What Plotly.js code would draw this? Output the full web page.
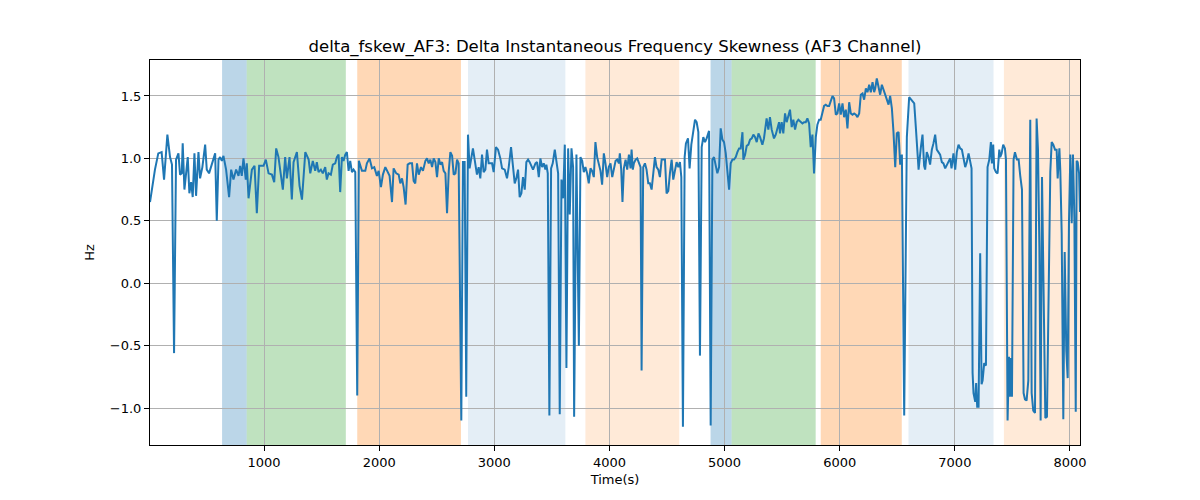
<!DOCTYPE html>
<html>
<head>
<meta charset="utf-8">
<script src="https://cdn.plot.ly/plotly-3.0.1.min.js"></script>
<style>
  body { margin: 0; background: #fff; }
  #chart { width: 1200px; height: 500px; }
</style>
</head>
<body>
<div id="chart"></div>
<script>
// time (s) and delta skewness values
var timeSec = [
  9, 52, 81, 110, 131, 160, 183, 200, 218, 235, 256, 270, 285, 293, 308, 337, 351, 366, 380, 395,
  409, 430, 444, 464, 488, 502, 522, 546, 575, 589, 604, 618, 633, 647, 670, 696, 714, 734, 757, 778,
  792, 806, 821, 841, 850, 865, 894, 917, 937, 957, 995, 1015, 1039, 1068, 1088, 1105, 1125, 1163, 1183, 1198,
  1221, 1241, 1256, 1285, 1308, 1329, 1358, 1387, 1401,
  1423, 1444, 1458, 1473, 1493, 1510, 1531, 1545, 1560, 1580, 1597, 1618, 1632, 1647, 1661, 1676, 1690, 1705, 1719, 1734,
  1748, 1763, 1777, 1792, 1809, 1823, 1850, 1879, 1893, 1916, 1937, 1957, 1980, 1995, 2015, 2032, 2053, 2073, 2090, 2111,
  2125, 2148, 2169, 2183, 2198, 2212, 2229, 2247, 2264, 2285, 2299, 2313, 2328, 2343, 2363, 2380, 2401, 2415, 2430, 2444,
  2459, 2473, 2488, 2502, 2517, 2531, 2546, 2560, 2575, 2589, 2604, 2618, 2633, 2647, 2662, 2676, 2690,
  2713, 2727, 2742, 2756, 2771, 2785, 2814, 2835, 2849, 2864, 2878, 2893, 2907, 2922, 2936, 2951, 2965, 2980, 2994, 3014,
  3032, 3052, 3067, 3090, 3110, 3125, 3145, 3162, 3177, 3191, 3206, 3220, 3235, 3249, 3264, 3278, 3293, 3307, 3322, 3336,
  3357, 3371, 3386, 3400, 3415, 3429, 3443, 3452, 3464, 3478, 3493, 3507, 3525, 3539, 3554, 3568, 3583, 3597, 3612, 3626,
  3641, 3655, 3670, 3684, 3693, 3713, 3734, 3748, 3763, 3777, 3791, 3806, 3820, 3835, 3849, 3864, 3878, 3893, 3907, 3922,
  3936, 3951, 3965, 3980, 3994, 4009,
  4024, 4038, 4053, 4067, 4082, 4090, 4102, 4113, 4125, 4140, 4154, 4169, 4183, 4192, 4203, 4212, 4227, 4241, 4256, 4270,
  4279, 4293, 4308, 4322, 4337, 4351, 4366, 4380, 4395, 4409, 4424, 4438, 4453, 4467, 4482, 4496, 4511, 4525, 4540, 4554,
  4569, 4583, 4598, 4612, 4624, 4638, 4653, 4664, 4682, 4696, 4711, 4728, 4743, 4757, 4772, 4786, 4801, 4815, 4830, 4844,
  4865, 4879, 4894, 4908, 4923, 4937, 4952, 4966, 4981, 4995, 5010, 5024, 5039, 5053, 5068, 5082, 5097, 5111, 5126, 5140,
  5155, 5163, 5178, 5192, 5207, 5221, 5236, 5250, 5265, 5279, 5294, 5308,
  5328, 5342, 5365, 5380, 5394, 5409, 5429, 5444, 5458, 5473, 5481, 5496, 5510, 5525, 5539, 5554, 5568, 5583, 5597, 5612,
  5626, 5641, 5661, 5676, 5690, 5705, 5719, 5734, 5748, 5763, 5777, 5792, 5806, 5821, 5835, 5850, 5864, 5879, 5893, 5908,
  5922, 5937, 5951, 5966, 5980, 5995, 6009, 6024, 6038, 6053, 6067, 6082, 6096, 6111, 6125, 6140, 6154, 6169, 6183, 6198,
  6212, 6227, 6241, 6256, 6270, 6285, 6299, 6308, 6322, 6337, 6351, 6366, 6380, 6395, 6409, 6424, 6438, 6453, 6467, 6482,
  6496, 6511, 6525, 6540, 6560, 6583, 6603, 6633, 6647, 6661, 6676, 6685, 6705,
  6719, 6733, 6742, 6756, 6771, 6785, 6800, 6814, 6829, 6843, 6858, 6872, 6887, 6901, 6916, 6930, 6945, 6959, 6971, 6988,
  7003, 7017, 7032, 7046, 7061, 7075, 7090, 7104, 7119, 7130, 7145, 7154, 7162, 7177, 7185, 7194, 7206, 7220, 7232, 7241,
  7255, 7270, 7284, 7299, 7313, 7322, 7333, 7342, 7357, 7371, 7386, 7394, 7406, 7420, 7435, 7444, 7458, 7470, 7478, 7487,
  7496, 7510, 7522, 7539, 7554, 7568, 7583, 7597, 7609, 7623, 7638, 7655, 7667, 7681, 7696, 7710, 7722, 7734, 7745, 7757,
  7768, 7786, 7800, 7815, 7829, 7841, 7855, 7870, 7884, 7893, 7908, 7916, 7928, 7942, 7954, 7968, 7980, 7991, 8003, 8015,
  8026, 8038, 8050, 8058, 8067, 8079, 8087
];
var deltaSkew = [
  0.65, 0.91, 1.04, 1.05, 0.83, 1.19, 1.01, 0.95, -0.56, 0.99, 1.04, 0.87, 0.88, 1.12, 0.75, 1.01, 0.72, 0.81, 0.69, 1.04,
  0.70, 1.05, 0.84, 0.93, 1.11, 0.91, 0.88, 0.96, 1.04, 0.50, 0.99, 1.01, 0.98, 1.02, 0.91, 0.69, 0.91, 0.83, 0.91, 0.86,
  0.94, 0.86, 1.00, 0.83, 0.96, 0.68, 0.91, 0.94, 0.56, 0.94, 0.94, 0.99, 0.88, 0.87, 0.81, 1.08, 1.01, 0.75, 1.01, 0.84,
  1.01, 0.67, 0.97, 1.05, 0.78, 0.67, 1.05, 0.99, 0.88,
  0.98, 0.90, 0.97, 0.89, 0.91, 0.88, 0.93, 0.83, 0.88, 0.87, 0.95, 0.96, 1.01, 1.03, 0.73, 1.01, 0.98, 1.03, 1.05, 0.90,
  0.98, 0.89, 0.91, 0.89, -0.90, 0.98, 0.90, 0.90, 0.96, 1.00, 0.92, 0.93, 0.86, 0.90, 0.77, 0.87, 0.93, 0.89, 0.86, 0.65,
  0.92, 0.88, 0.87, 0.80, 0.84, 0.77, 0.63, 0.95, 0.96, 0.96, 0.82, 0.80, 0.96, 0.87, 0.93, 0.90, 0.98, 1.00, 0.96, 0.99,
  0.93, 1.00, 0.97, 0.85, 1.00, 0.95, 0.97, 0.90, 0.88, 0.56, 0.90, 1.05, 1.02, 0.87, 0.88, 0.99, 0.96,
  -1.10, 0.97, 0.97, -0.91, 1.19, 0.92, 1.08, 0.96, 0.87, 0.93, 0.84, 1.03, 0.89, 0.91, 1.07, 0.96, 0.96, 0.96, 0.89, 1.09,
  1.07, 1.00, 0.92, 0.91, 0.84, 0.93, 1.09, 0.93, 0.80, 0.84, 0.91, 0.69, 0.72, 0.85, 0.75, 0.97, 0.99, 0.97, 0.93, 0.91,
  0.96, 0.97, 0.85, 1.00, 0.93, 0.96, 0.91, 0.95, 0.88, -1.06, 0.92, 0.96, 1.07, 0.96, 0.88, -1.05, 0.83, 0.68, 1.11, -0.68,
  1.08, 0.55, 1.08, 0.93, -1.07, 1.03, -0.50, 1.01, 0.98, 0.89, 0.93, 0.88, 0.80, 0.92, 0.90, 0.85, 1.13, 1.01, 0.96, 0.90,
  0.79, 1.04, 0.96, 0.85, 0.93, 0.96,
  0.85, 0.93, 0.98, 0.99, 0.96, 1.04, 0.91, 0.65, 0.92, 0.99, 0.91, 1.03, 0.92, 1.07, 0.91, 0.96, 0.99, 1.00, 0.96, 0.93,
  -0.70, 0.93, 0.96, 0.91, 0.80, 0.80, 0.75, 0.88, 1.01, 0.93, 0.91, 0.85, 0.99, 0.99, 0.99, 0.72, 0.74, 0.88, 0.99, 0.83,
  0.91, 0.97, 0.93, 0.97, 0.85, -1.15, 1.01, 1.12, 1.16, 0.92, 1.11, 1.21, 1.31, 1.29, 1.21, -0.58, 1.09, 1.17, 1.13, 1.16,
  1.22, -1.14, 0.99, 1.01, 0.95, 0.88, 0.93, 1.24, 1.15, 1.13, 1.04, 0.88, 0.75, 0.96, 0.99, 0.99, 1.01, 1.05, 1.08, 1.08,
  1.21, 0.99, 1.03, 1.10, 1.11, 1.15, 1.16, 1.19, 1.17, 1.13, 1.20, 1.17,
  1.11, 1.16, 1.32, 1.23, 1.33, 1.23, 1.16, 1.19, 1.23, 1.29, 1.20, 1.29, 1.20, 1.36, 1.29, 1.35, 1.39, 1.25, 1.31, 1.23,
  1.29, 1.31, 1.29, 1.28, 1.29, 1.29, 1.32, 1.28, 1.09, 1.19, 0.88, 1.17, 1.27, 1.31, 1.31, 1.36, 1.42, 1.43, 1.42, 1.42,
  1.46, 1.50, 1.48, 1.35, 1.36, 1.44, 1.35, 1.44, 1.33, 1.39, 1.24, 1.45, 1.36, 1.35, 1.36, 1.35, 1.33, 1.36, 1.51, 1.52,
  1.47, 1.56, 1.53, 1.59, 1.53, 1.61, 1.53, 1.56, 1.64, 1.56, 1.51, 1.59, 1.55, 1.51, 1.48, 1.43, 1.50, 1.40, 1.21, 0.93,
  1.20, 1.21, 0.95, 1.03, -1.06, 1.17, 1.49, 1.45, 1.44, 1.25, 0.99, 0.91, 1.09,
  1.19, 0.94, 0.91, 1.05, 1.01, 0.95, 1.07, 1.12, 1.19, 1.07, 1.05, 1.03, 0.97, 0.96, 0.92, 0.95, 0.97, 1.00, 0.92, 1.04,
  0.91, 1.05, 1.11, 1.08, 1.07, 1.01, 0.93, 0.97, 1.04, 0.99, 0.92, -0.72, -0.88, -0.95, -0.80, -0.99, -0.99, 0.24, -0.81, -0.78,
  -0.64, -0.66, 0.93, 0.99, 1.13, 0.96, 1.11, 0.92, 0.89, 0.88, 1.07, 1.01, 1.04, 1.11, 1.08, 0.99, -1.10, -0.59, -0.91, -0.60,
  -0.91, 0.99, 1.05, 0.99, 0.99, 0.86, 0.75, -0.88, -0.93, -0.94, -0.78, 1.31, -0.88, -1.02, -1.04, 1.32, 1.07, 0.29, -1.10, 0.85,
  0.18, -1.08, -1.07, 0.07, 0.89, 1.13, 1.11, 1.07, 1.07, 0.84, 1.08, 0.90, 0.40, -1.09, 0.25, -0.54, -0.76, 0.48, 1.03, 0.48,
  1.03, 0.53, -1.03, 0.98, 0.97, 0.88, 0.57
];

// shaded intervals (seconds) and their kind
var bandStart = [635, 849, 1809, 2771, 3791, 4878, 5061, 5835, 6597, 7426];
var bandEnd   = [849, 1710, 2710, 3617, 4606, 5061, 5791, 6539, 7336, 8100];
var bandKind  = ['blue', 'green', 'orange', 'lightblue', 'lightorange',
                 'blue', 'green', 'orange', 'lightblue', 'lightorange'];

var BAND_FILL = {
  blue: 'rgba(31,119,180,0.3)',
  green: 'rgba(44,160,44,0.3)',
  orange: 'rgba(255,127,14,0.3)',
  lightblue: 'rgba(31,119,180,0.12)',
  lightorange: 'rgba(255,127,14,0.16)'
};

var shapes = bandStart.map(function (s, i) {
  return {
    type: 'rect', xref: 'x', yref: 'paper',
    x0: s, x1: bandEnd[i], y0: 0, y1: 1,
    fillcolor: BAND_FILL[bandKind[i]],
    line: { width: 0 },
    layer: 'below'
  };
});

var FONT = 'DejaVu Sans, sans-serif';

var trace = {
  x: timeSec,
  y: deltaSkew,
  type: 'scatter',
  mode: 'lines',
  line: { color: '#1f77b4', width: 2 },
  hoverinfo: 'x+y'
};

var layout = {
  width: 1200, height: 500,
  margin: { l: 150, r: 120, t: 60, b: 55 },
  paper_bgcolor: '#fff',
  plot_bgcolor: 'rgba(0,0,0,0)',
  font: { family: FONT, size: 13, color: '#000' },
  showlegend: false,
  title: {
    text: 'delta_fskew_AF3: Delta Instantaneous Frequency Skewness (AF3 Channel)',
    font: { family: FONT, size: 16.5, color: '#000' },
    x: 0.5125, xanchor: 'center',
    y: 0.908, yanchor: 'middle', yref: 'container'
  },
  xaxis: {
    range: [9, 8087],
    tickvals: [1000, 2000, 3000, 4000, 5000, 6000, 7000, 8000],
    ticks: 'outside', ticklen: 5, tickcolor: '#000', tickwidth: 1,
    showgrid: true, gridcolor: '#b0b0b0', gridwidth: 1,
    zeroline: false,
    showline: true, linecolor: '#000', linewidth: 1, mirror: true,
    tickfont: { family: FONT, size: 13 },
    title: { text: 'Time(s)', font: { family: FONT, size: 13 }, standoff: 6 }
  },
  yaxis: {
    range: [-1.296, 1.788],
    tickvals: [-1.0, -0.5, 0, 0.5, 1.0, 1.5],
    ticktext: ['\u22121.0', '\u22120.5', '0.0', '0.5', '1.0', '1.5'],
    ticks: 'outside', ticklen: 5, tickcolor: '#000', tickwidth: 1,
    showgrid: true, gridcolor: '#b0b0b0', gridwidth: 1,
    zeroline: false,
    showline: true, linecolor: '#000', linewidth: 1, mirror: true,
    tickfont: { family: FONT, size: 13 },
    title: { text: 'Hz', font: { family: FONT, size: 13 }, standoff: 12 }
  },
  shapes: shapes
};

Plotly.newPlot('chart', [trace], layout, { displayModeBar: false, staticPlot: true });
</script>
</body>
</html>
